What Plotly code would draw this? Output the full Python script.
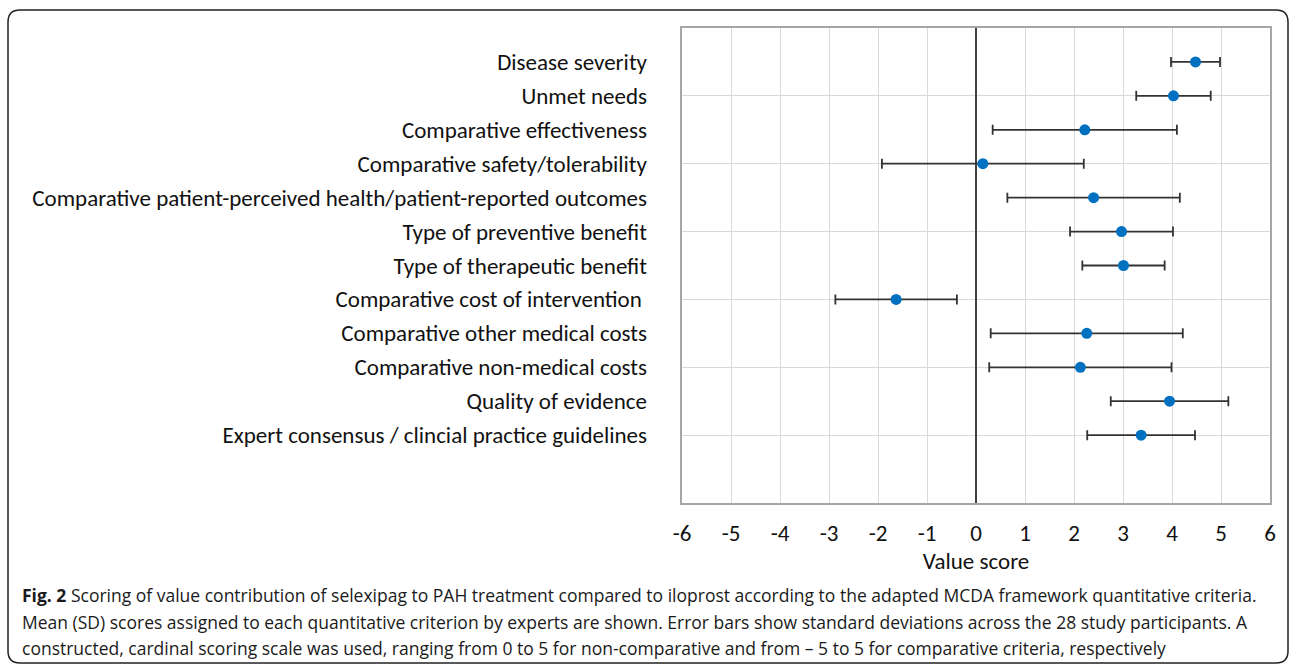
import plotly.graph_objects as go

categories = [
    "Disease severity",
    "Unmet needs",
    "Comparative effectiveness",
    "Comparative safety/tolerability",
    "Comparative patient-perceived health/patient-reported outcomes",
    "Type of preventive benefit",
    "Type of therapeutic benefit",
    "Comparative cost of intervention ",
    "Comparative other medical costs",
    "Comparative non-medical costs",
    "Quality of evidence",
    "Expert consensus / clincial practice guidelines",
]
mean_scores = [4.48, 4.03, 2.22, 0.14, 2.40, 2.97, 3.01, -1.63, 2.26, 2.13, 3.95, 3.37]
sd_scores = [0.50, 0.76, 1.88, 2.06, 1.76, 1.05, 0.84, 1.24, 1.96, 1.86, 1.20, 1.10]
x_ticks = [-6, -5, -4, -3, -2, -1, 0, 1, 2, 3, 4, 5, 6]
x_title = "Value score"
caption_lines = [
    "<b>Fig. 2</b> Scoring of value contribution of selexipag to PAH treatment compared to iloprost according to the adapted MCDA framework quantitative criteria.",
    "Mean (SD) scores assigned to each quantitative criterion by experts are shown. Error bars show standard deviations across the 28 study participants. A",
    "constructed, cardinal scoring scale was used, ranging from 0 to 5 for non-comparative and from \u2013 5 to 5 for comparative criteria, respectively",
]

n = len(categories)
positions = [n + 1 - i for i in range(n)]  # top category highest

W, H = 1293, 666
L, R, T, B = 682, 1270, 28, 503

def px(xp):
    return (xp - L) / (R - L)

def py(yp):
    return (B - yp) / (B - T)

label_font = "Carlito, Lato, sans-serif"

fig = go.Figure()
fig.add_trace(go.Scatter(
    x=mean_scores, y=positions, mode="markers",
    marker=dict(color="#0070C0", size=11),
    error_x=dict(type="data", array=sd_scores, visible=True,
                 color="#333333", thickness=1.8, width=5),
    showlegend=False, yaxis="y2",
))
# helper trace for grid axis
fig.add_trace(go.Scatter(x=[None], y=[None], yaxis="y", showlegend=False,
                         hoverinfo="skip", mode="lines"))

fig.update_layout(
    width=W, height=H,
    margin=dict(l=L, r=W - R, t=T, b=H - B),
    paper_bgcolor="white", plot_bgcolor="white",
    xaxis=dict(range=[-6, 6], tickvals=x_ticks, ticktext=[str(v) for v in x_ticks],
               showgrid=True, gridcolor="#D9D9D9", gridwidth=1,
               zeroline=True, zerolinecolor="#404040", zerolinewidth=1.6,
               showline=True, linecolor="#A6A6A6", linewidth=1.5, mirror=True,
               ticks="", ticklabelstandoff=9,
               tickfont=dict(family=label_font, size=23, color="#111111"),
               title=dict(text=x_title, standoff=1,
                          font=dict(family=label_font, size=23, color="#111111"))),
    yaxis=dict(range=[0, 14], tickvals=[0, 2, 4, 6, 8, 10, 12, 14],
               showticklabels=False, showgrid=True, gridcolor="#D9D9D9",
               zeroline=False, showline=True, linecolor="#A6A6A6", linewidth=1.5,
               mirror=True, ticks=""),
    yaxis2=dict(range=[0, 14], overlaying="y", side="left", anchor="x",
                tickvals=positions, ticktext=categories, showgrid=False,
                zeroline=False, showline=False, ticks="", ticklabelstandoff=34,
                tickfont=dict(family=label_font, size=23, color="#111111")),
)

# rounded frame around the figure
x0, x1, y0, y1, r = 8, 1288, 10, 663, 12
path = (
    f"M {px(x0 + r)},{py(y0)} L {px(x1 - r)},{py(y0)} "
    f"Q {px(x1)},{py(y0)} {px(x1)},{py(y0 + r)} "
    f"L {px(x1)},{py(y1 - r)} Q {px(x1)},{py(y1)} {px(x1 - r)},{py(y1)} "
    f"L {px(x0 + r)},{py(y1)} Q {px(x0)},{py(y1)} {px(x0)},{py(y1 - r)} "
    f"L {px(x0)},{py(y0 + r)} Q {px(x0)},{py(y0)} {px(x0 + r)},{py(y0)} Z"
)
fig.add_shape(type="path", path=path, xref="paper", yref="paper",
              line=dict(color="#222222", width=1.5), layer="above")

cap_y = [595, 622, 648]
for line, yy in zip(caption_lines, cap_y):
    fig.add_annotation(text=line, xref="paper", yref="paper", x=px(20), y=py(yy),
                       xanchor="left", yanchor="middle", showarrow=False,
                       font=dict(family="Open Sans, sans-serif", size=17.5, color="#1a1a1a"))

fig.write_html("out.html", config={"displayModeBar": False},
               post_script="document.body.style.margin='0';document.body.style.overflow='hidden';")
